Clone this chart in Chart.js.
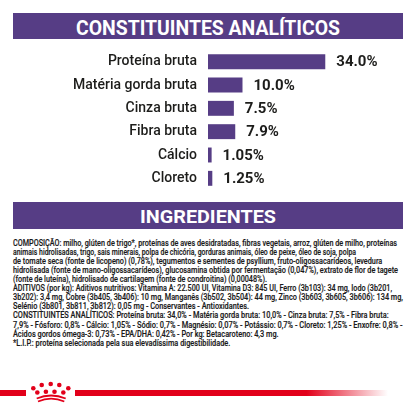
<!DOCTYPE html>
<html>
<head>
<meta charset="utf-8">
<script src="https://cdn.jsdelivr.net/npm/chart.js@4.4.1/dist/chart.umd.min.js"></script>
<style>
  html, body { margin: 0; padding: 0; background: #fff; }
  body { width: 416px; height: 416px; position: relative; overflow: hidden; font-family: Roboto, sans-serif; }
  .band { position: absolute; left: 13px; width: 390px; background: #563d85; }
  .band span { position: absolute; color: #fff; font-weight: 700; white-space: nowrap; line-height: 1; transform-origin: 0 50%; }
  #chartBox { position: absolute; left: 0; top: 50px; width: 416px; height: 140px; }
  .line { position: absolute; left: 12.7px; font-size: 8.5px; line-height: 9px; white-space: nowrap; color: #1a1a1a; font-weight: 500; -webkit-text-stroke: 0.15px #1a1a1a; transform-origin: 0 50%; }
  #logo { position: absolute; left: 0; top: 376px; }
</style>
</head>
<body>
<div class="band" style="top:13px;height:26px"><span id="h1" style="font-size:20px;top:4.5px;left:63px">CONSTITUINTES ANALÍTICOS</span></div>
<div id="chartBox"><canvas id="myChart"></canvas></div>
<div class="band" style="top:202.3px;height:27px"><span id="h2" style="font-size:19px;top:5.2px;left:127px">INGREDIENTES</span></div>
<div id="text"></div>
<svg id="logo" width="416" height="30" viewBox="0 376 416 30">
  <defs>
    <linearGradient id="fade" x1="75" y1="0" x2="388" y2="0" gradientUnits="userSpaceOnUse">
      <stop offset="0" stop-color="#e2001a"/>
      <stop offset="0.74" stop-color="#e2001a"/>
      <stop offset="1" stop-color="#e2001a" stop-opacity="0"/>
    </linearGradient>
  </defs>
  <rect x="0" y="390" width="26" height="6" fill="#e2001a"/>
  <rect x="75" y="390" width="313" height="6" fill="url(#fade)"/>
  <g fill="#e2001a">
    <circle cx="33.3" cy="388.3" r="2.3"/>
    <circle cx="41.7" cy="385" r="2.3"/>
    <circle cx="50.7" cy="384" r="2.3"/>
    <circle cx="59.3" cy="385" r="2.3"/>
    <circle cx="68.3" cy="388.3" r="2.3"/>
    <circle cx="37.3" cy="392.5" r="2.3"/>
    <circle cx="45.9" cy="391.7" r="2.3"/>
    <circle cx="54.5" cy="391.7" r="2.3"/>
    <circle cx="63.3" cy="392.5" r="2.3"/>
  </g>
  <g fill="none" stroke="#e2001a" stroke-width="1.8">
    <path d="M36.7 398.5 Q51 392.5 65.7 398.5"/>
    <path d="M38 401.5 Q51 395.8 64.3 401.5"/>
  </g>
</svg>
<script>
const categories = ['Proteína bruta', 'Matéria gorda bruta', 'Cinza bruta', 'Fibra bruta', 'Cálcio', 'Cloreto'];
const values = [34.0, 10.0, 7.5, 7.9, 1.05, 1.25];
const valueLabels = ['34.0%', '10.0%', '7.5%', '7.9%', '1.05%', '1.25%'];

const textLines = [
  'COMPOSIÇÃO: milho, glúten de trigo*, proteínas de aves desidratadas, fibras vegetais, arroz, glúten de milho, proteínas',
  'animais hidrolisadas, trigo, sais minerais, polpa de chicória, gorduras animais, óleo de peixe, óleo de soja, polpa',
  'de tomate seca (fonte de licopeno) (0,78%), tegumentos e sementes de psyllium, fruto-oligossacarídeos, levedura',
  'hidrolisada (fonte de mano-oligossacarídeos), glucosamina obtida por fermentação (0,047%), extrato de flor de tagete',
  '(fonte de luteína), hidrolisado de cartilagem (fonte de condroitina) (0,00048%).',
  'ADITIVOS (por kg): Aditivos nutritivos: Vitamina A: 22.500 UI, Vitamina D3: 845 UI, Ferro (3b103): 34 mg, Iodo (3b201,',
  '3b202): 3,4 mg, Cobre (3b405, 3b406): 10 mg, Manganês (3b502, 3b504): 44 mg, Zinco (3b603, 3b605, 3b606): 134 mg,',
  'Selénio (3b801, 3b811, 3b812): 0,05 mg - Conservantes - Antioxidantes.',
  'CONSTITUINTES ANALÍTICOS: Proteína bruta: 34,0% - Matéria gorda bruta: 10,0% - Cinza bruta: 7,5% - Fibra bruta:',
  '7,9% - Fósforo: 0,8% - Cálcio: 1,05% - Sódio: 0,7% - Magnésio: 0,07% - Potássio: 0,7% - Cloreto: 1,25% - Enxofre: 0,8% -',
  'Ácidos gordos ómega-3: 0,73% - EPA/DHA: 0,42% - Por kg: Betacaroteno: 4,3 mg.',
  '*L.I.P.: proteína selecionada pela sua elevadíssima digestibilidade.'
];
// right edge of each text line in the picture
const lineEnds = [396.7, 355.7, 382, 397.7, 266.7, 391.7, 402.7, 248.7, 388.3, 402.3, 278.3, 230];

function fitWidth(el, width) {
  const w = el.getBoundingClientRect().width;
  el.style.transform = 'scaleX(' + (width / w) + ')';
}

fitWidth(document.getElementById('h1'), 264);
fitWidth(document.getElementById('h2'), 136);

const box = document.getElementById('text');
textLines.forEach((t, i) => {
  const d = document.createElement('div');
  d.className = 'line';
  d.textContent = t;
  d.style.top = (243.3 + i * 9.09 - 4.6) + 'px';
  box.appendChild(d);
  fitWidth(d, lineEnds[i] - 12.7);
});

const valueLabelPlugin = {
  id: 'valueLabels',
  afterDatasetsDraw(chart) {
    const ctx = chart.ctx;
    const meta = chart.getDatasetMeta(0);
    ctx.save();
    ctx.font = 'bold 15px Roboto';
    ctx.fillStyle = '#1d1d1b';
    ctx.textBaseline = 'middle';
    ctx.textAlign = 'left';
    meta.data.forEach((bar, i) => {
      ctx.fillText(valueLabels[i], bar.x + 11, bar.y + 1);
    });
    ctx.restore();
  }
};

const CHART = document.getElementById('myChart');
let myChart = new Chart(CHART, {
  type: 'bar',
  data: {
    labels: categories,
    datasets: [{
      data: values,
      backgroundColor: '#563d85',
      borderWidth: 0,
      barPercentage: 0.64,
      categoryPercentage: 1
    }]
  },
  options: {
    indexAxis: 'y',
    responsive: true,
    maintainAspectRatio: false,
    animation: false,
    layout: { padding: 0 },
    plugins: { legend: { display: false }, tooltip: { enabled: false } },
    scales: {
      x: { display: false, min: 0, max: 60.3 },
      y: {
        afterFit(scale) {
          scale.width = 208;
          scale.paddingTop = 0;
          scale.paddingBottom = 0;
        },
        grid: { display: false, drawTicks: false },
        border: { display: false },
        ticks: { padding: 11, color: '#1d1d1b', font: { family: 'Roboto', size: 14, weight: '500' } }
      }
    }
  },
  plugins: [valueLabelPlugin]
});
</script>
</body>
</html>
